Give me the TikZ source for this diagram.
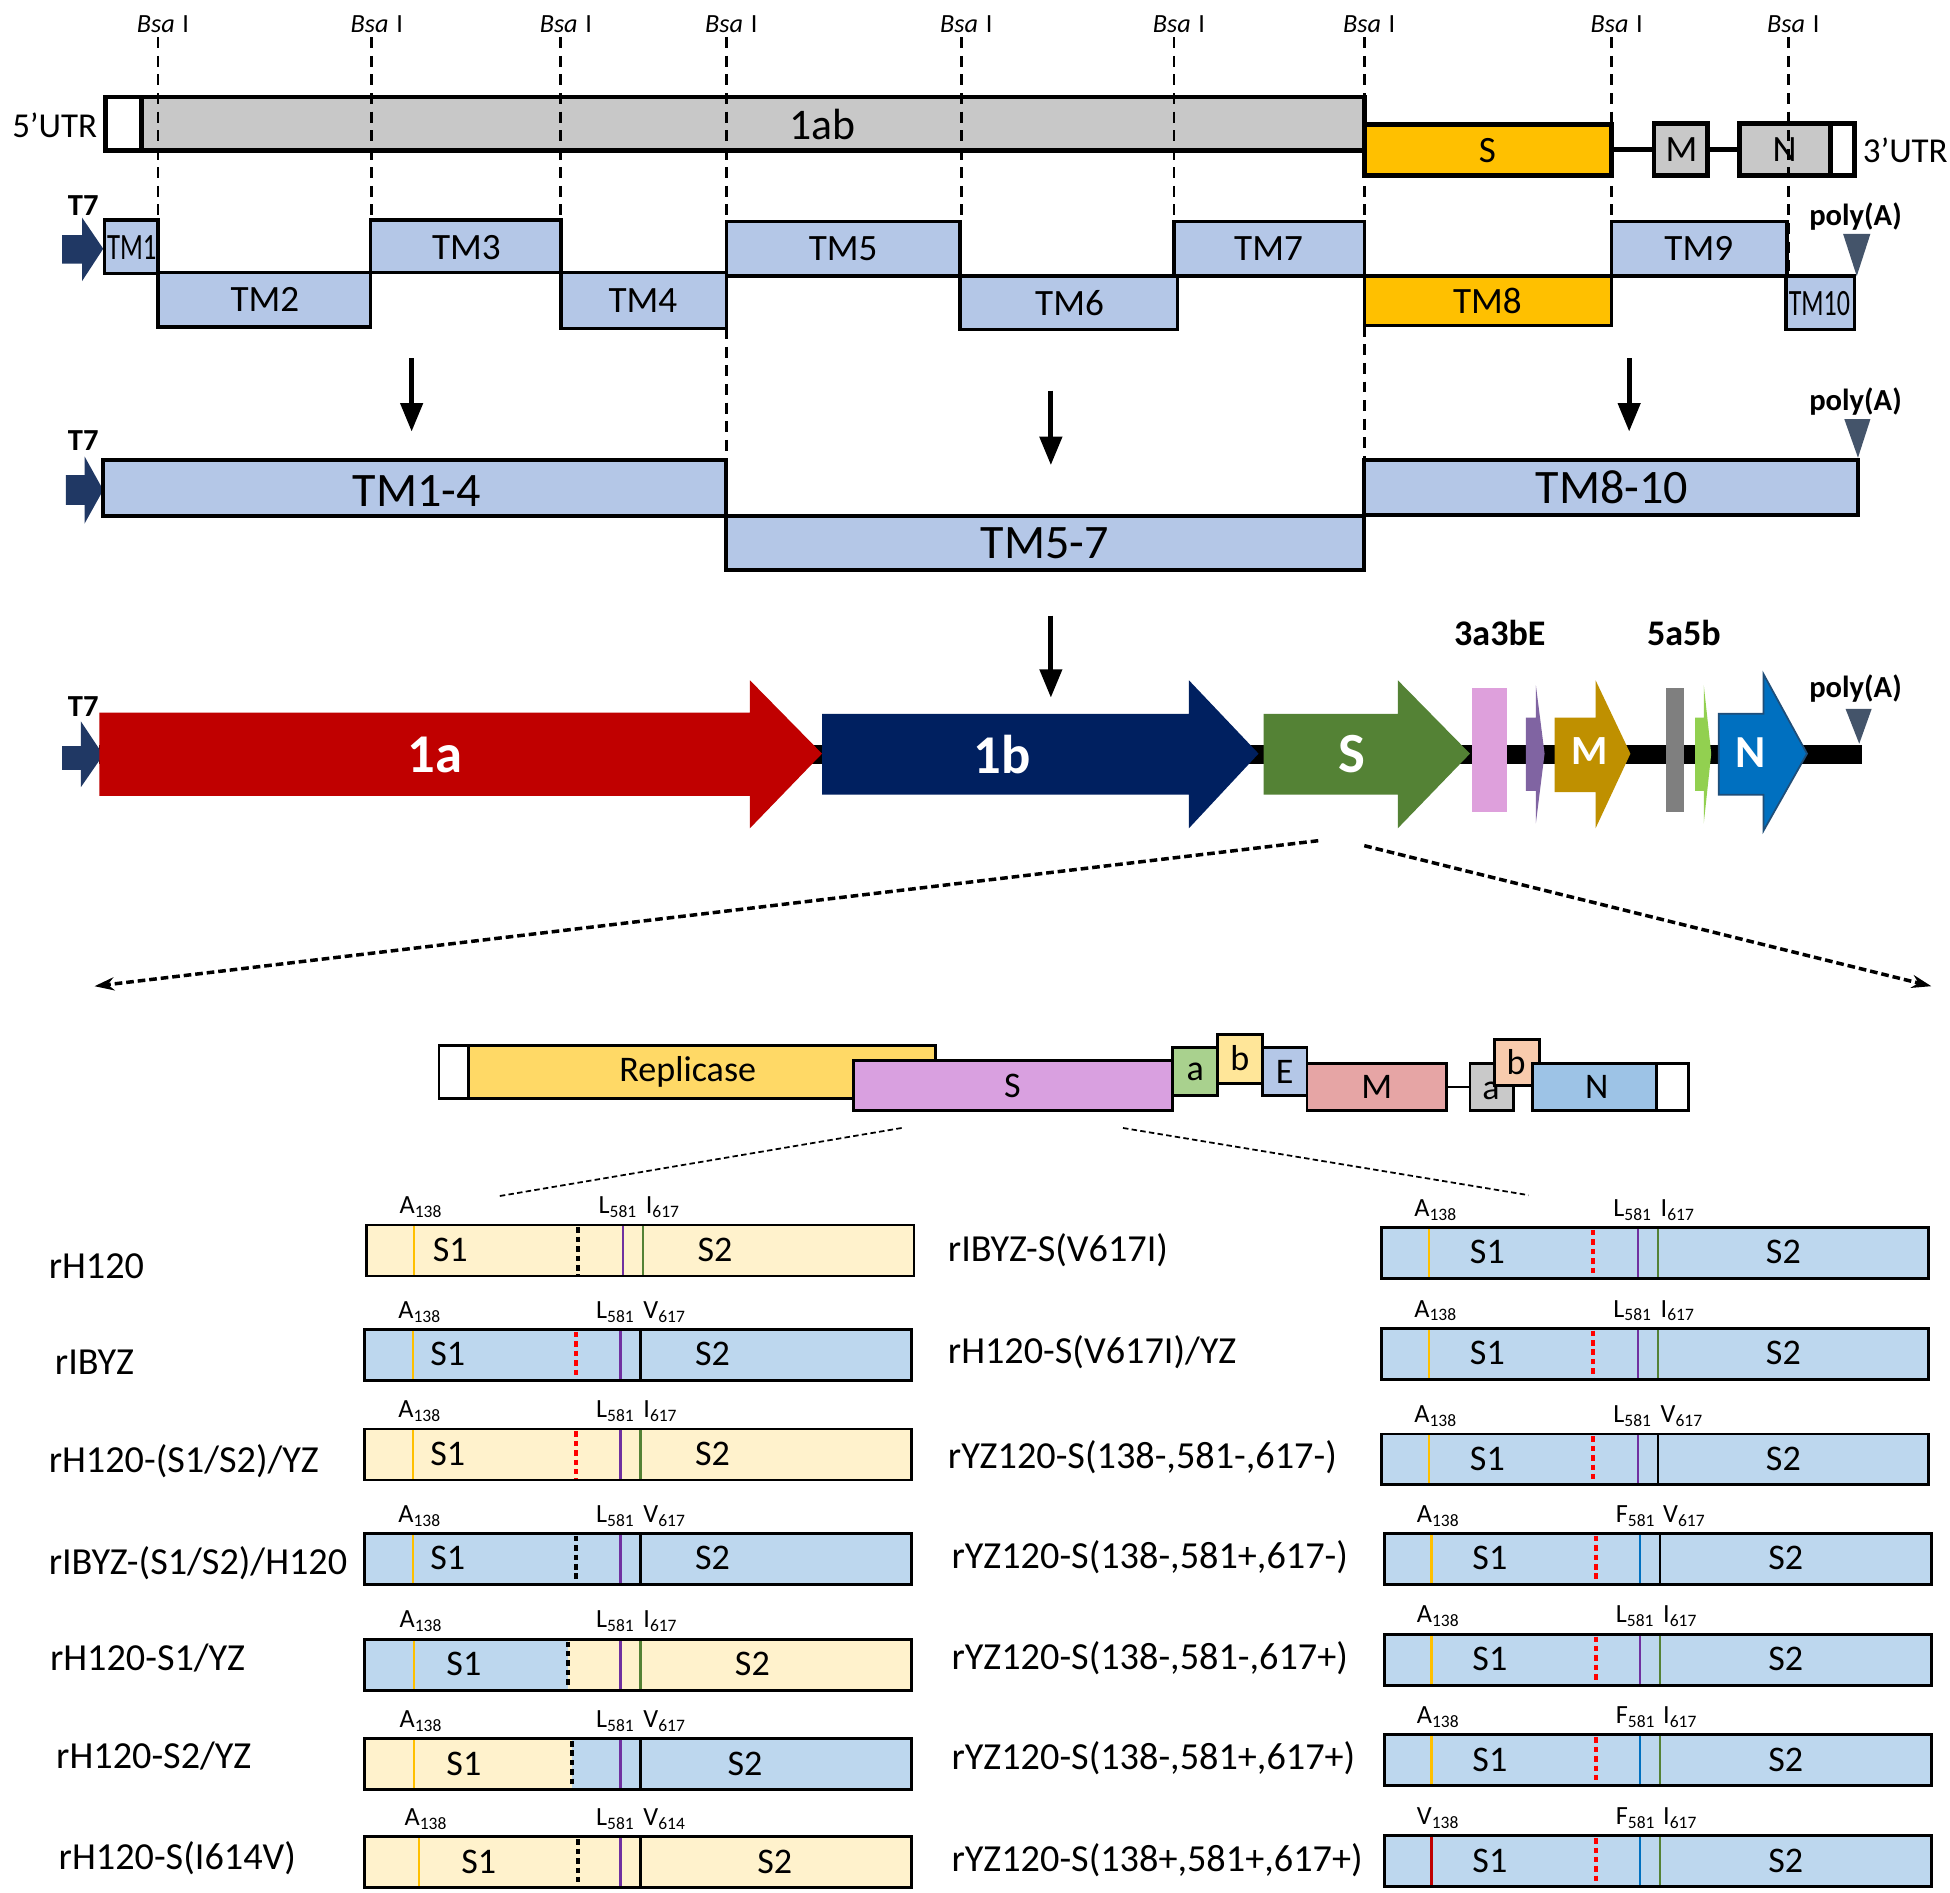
\documentclass[tikz,border=0pt]{standalone}
\usepackage{fontspec}
\setmainfont{Carlito}
\usetikzlibrary{arrows.meta}

\definecolor{tmblue}{RGB}{180,199,231}
\definecolor{sorange}{RGB}{255,192,0}
\definecolor{orfgray}{RGB}{200,200,200}
\definecolor{t7navy}{RGB}{32,56,100}
\definecolor{polygray}{RGB}{68,84,106}
\definecolor{orfred}{RGB}{192,0,0}
\definecolor{orfnavy}{RGB}{0,32,96}
\definecolor{orfgreen}{RGB}{84,130,53}
\definecolor{orfpink}{RGB}{222,160,220}
\definecolor{orfpurple}{RGB}{128,100,162}
\definecolor{orfgold}{RGB}{191,144,0}
\definecolor{orfdgray}{RGB}{127,127,127}
\definecolor{orflime}{RGB}{146,208,80}
\definecolor{orfblue}{RGB}{0,112,192}
\definecolor{orfblueline}{RGB}{31,78,121}
\definecolor{repyellow}{RGB}{255,217,102}
\definecolor{spike}{RGB}{217,160,224}
\definecolor{ngreen}{RGB}{169,209,142}
\definecolor{nyellow}{RGB}{255,230,153}
\definecolor{msalmon}{RGB}{230,165,165}
\definecolor{ngray}{RGB}{201,201,201}
\definecolor{bsalmon}{RGB}{248,203,173}
\definecolor{nblue}{RGB}{157,195,230}
\definecolor{h120}{RGB}{255,242,204}
\definecolor{ibyz}{RGB}{189,215,238}
\definecolor{mkorange}{RGB}{255,192,0}
\definecolor{mkpurple}{RGB}{112,48,160}
\definecolor{mkgreen}{RGB}{84,130,53}
\definecolor{mkblue}{RGB}{0,112,192}
\definecolor{mkred}{RGB}{192,0,0}
\definecolor{cutred}{RGB}{255,0,0}

\begin{document}
\begin{tikzpicture}[x=0.02cm, y=-0.02cm,
    gbox/.style={draw=black, line width=2.2pt},
    tmbox/.style={draw=black, line width=1.5pt, fill=tmblue},
    fragbox/.style={draw=black, line width=1.8pt, fill=tmblue},
    sbox/.style={draw=black, line width=1.3pt},
    sitecut/.style={line width=1.3pt, dash pattern=on 5pt off 3.5pt},
    downarr/.style={line width=2.2pt, -{Triangle[length=13pt, width=10pt]}},
    zoomarr/.style={line width=1.6pt, dash pattern=on 3.5pt off 1.8pt, -{Stealth[length=9pt, width=6pt]}},
    zoomline/.style={line width=0.8pt, dash pattern=on 2.5pt off 1.5pt},
    snp/.style={line width=1pt},
    s1s2cut/.style={line width=1.8pt, dash pattern=on 2.5pt off 1.8pt},
    bsalab/.style={font=\fontsize{12pt}{14pt}\selectfont, anchor=base},
    utrlab/.style={font=\fontsize{16pt}{18pt}\selectfont},
    tmlab/.style={font=\fontsize{17pt}{19pt}\selectfont},
    fraglab/.style={font=\fontsize{22pt}{24pt}\selectfont},
    boldlab/.style={font=\bfseries\fontsize{14pt}{16pt}\selectfont},
    orflab/.style={font=\bfseries\fontsize{25pt}{27pt}\selectfont, text=white},
    genlab/.style={font=\fontsize{16.5pt}{18pt}\selectfont},
    rowlab/.style={font=\fontsize{17.5pt}{19pt}\selectfont, anchor=west},
    snplab/.style={font=\fontsize{12pt}{14pt}\selectfont, anchor=base west, inner sep=0pt}]

    \useasboundingbox (0,0) rectangle (1568,1522);

    \fill[white] (0,0) rectangle (1568,1522);

    \draw[gbox, fill=orfgray] (85,78) rectangle (1097,121);
    \draw[gbox, fill=white] (85,78) rectangle (114,121);
    \draw[line width=2.2pt] (1296,120) -- (1399,120);
    \draw[gbox, fill=sorange] (1097,100) rectangle (1296,141);
    \draw[gbox, fill=orfgray] (1330,99) rectangle (1373,141);
    \draw[gbox, fill=orfgray] (1399,99) rectangle (1491,141);
    \draw[gbox, fill=white] (1472,99) rectangle (1491,141);

    \node[utrlab] (utr5) at (44,101) {5'UTR};
    \node[font=\fontsize{20pt}{22pt}\selectfont] (orf1ab) at (661,100) {1ab};
    \node[tmlab] (gS) at (1196,121) {S};
    \node[tmlab] (gM) at (1352,120) {M};
    \node[tmlab] (gN) at (1435,120) {N};
    \node[utrlab] (utr3) at (1532,121) {3'UTR};

    \fill[t7navy] (50,189) -- (66,189) -- (66,175) -- (83,200) -- (66,226) -- (66,212) -- (50,212) -- cycle;
    \node[boldlab] (t7a) at (67,165) {T7};

    \draw[tmbox] (84,177) rectangle (127,220);
    \draw[tmbox] (127,219) rectangle (298,263);
    \draw[tmbox] (298,177) rectangle (451,219);
    \draw[tmbox] (451,219) rectangle (584,264);
    \draw[tmbox] (584,178) rectangle (772,222);
    \draw[tmbox] (772,222) rectangle (947,265);
    \draw[tmbox] (944,178) rectangle (1097,222);
    \draw[tmbox, fill=sorange] (1097,222) rectangle (1296,262);
    \draw[tmbox] (1296,178) rectangle (1437,222);
    \draw[tmbox] (1436,222) rectangle (1491,265);

    \node[tmlab] (tm1) at (106,199) {\scalebox{0.72}[1]{TM1}};
    \node[tmlab] (tm2) at (213,241) {TM2};
    \node[tmlab] (tm3) at (375,199) {TM3};
    \node[tmlab] (tm4) at (517,242) {TM4};
    \node[tmlab] (tm5) at (678,200) {TM5};
    \node[tmlab] (tm6) at (860,244) {TM6};
    \node[tmlab] (tm7) at (1020,200) {TM7};
    \node[tmlab] (tm8) at (1196,242) {TM8};
    \node[tmlab] (tm9) at (1366,200) {TM9};
    \node[tmlab] (tm10) at (1463,244) {\scalebox{0.7}[1]{TM10}};

    \node[boldlab] (polyA1) at (1492,174) {poly(A)};
    \fill[polygray] (1482,188) -- (1504,188) -- (1493,222) -- cycle;

    \foreach \bsa/\yend in {127/177, 299/177, 451/177, 584/178, 773/178, 944/178, 1097/178, 1296/178, 1438/222}{
        \node[bsalab] (bsa\bsa) at (\bsa+4,26) {\textit{Bsa}\hspace{3.5pt}I};
        \draw[sitecut] (\bsa,30) -- (\bsa,\yend);
    }
    \draw[sitecut] (584,264) -- (584,370);
    \draw[sitecut] (1097,262) -- (1097,370);

    \draw[downarr] (331,288) -- (331,347);
    \draw[downarr] (845,314) -- (845,374);
    \draw[downarr] (1310,288) -- (1310,347);

    \fill[t7navy] (53,382) -- (68,382) -- (68,367) -- (83,394) -- (68,421) -- (68,406) -- (53,406) -- cycle;
    \node[boldlab] (t7b) at (67,354) {T7};

    \draw[fragbox] (83,370) rectangle (584,415);
    \draw[fragbox] (584,415) rectangle (1097,458);
    \draw[fragbox] (1097,370) rectangle (1494,414);
    \node[fraglab] (tm14) at (335,395) {TM1-4};
    \node[fraglab] (tm57) at (840,437) {TM5-7};
    \node[fraglab] (tm810) at (1296,392) {TM8-10};

    \node[boldlab] (polyA2) at (1492,323) {poly(A)};
    \fill[polygray] (1483,337) -- (1504,337) -- (1494,368) -- cycle;

    \draw[downarr] (845,495) -- (845,561);

    \fill[black] (80,599) rectangle (1497,614);
    \fill[t7navy] (50,600) -- (65,600) -- (65,580) -- (83,607) -- (65,633) -- (65,619) -- (50,619) -- cycle;
    \node[boldlab] (t7c) at (67,568) {T7};

    \fill[orfred] (80,573) -- (603,573) -- (603,547) -- (661,606) -- (603,666) -- (603,640) -- (80,640) -- cycle;
    \fill[orfnavy] (661,574) -- (956,574) -- (956,547) -- (1012,606) -- (956,666) -- (956,639) -- (661,639) -- cycle;
    \fill[orfgreen] (1016,574) -- (1124,574) -- (1124,547) -- (1182,606) -- (1124,666) -- (1124,639) -- (1016,639) -- cycle;
    \fill[orfpink] (1184,553) rectangle (1212,653);
    \fill[orfpurple] (1227,577) -- (1235,577) -- (1235,551) -- (1242,606) -- (1235,662) -- (1235,636) -- (1227,636) -- cycle;
    \fill[orfgold] (1250,577) -- (1283,577) -- (1283,547) -- (1311,606) -- (1283,666) -- (1283,637) -- (1250,637) -- cycle;
    \fill[orfdgray] (1340,553) rectangle (1354,653);
    \fill[orflime] (1363,577) -- (1370,577) -- (1370,551) -- (1376,606) -- (1370,662) -- (1370,636) -- (1363,636) -- cycle;
    \filldraw[fill=orfblue, draw=orfblueline, line width=0.8pt] (1382,574) -- (1418,574) -- (1418,542) -- (1453,606) -- (1418,668) -- (1418,639) -- (1382,639) -- cycle;

    \node[orflab] (orf1a) at (350,607) {1a};
    \node[orflab] (orf1b) at (806,607) {1b};
    \node[orflab, font=\bfseries\fontsize{26pt}{28pt}\selectfont] (orfS) at (1087,606) {S};
    \node[orflab, font=\bfseries\fontsize{19pt}{21pt}\selectfont] (orfM) at (1278,604) {M};
    \node[orflab, font=\bfseries\fontsize{21pt}{23pt}\selectfont] (orfN) at (1408,605) {N};
    \node[boldlab, font=\bfseries\fontsize{16.5pt}{18pt}\selectfont] (orf3) at (1206,509) {3a3bE};
    \node[boldlab, font=\bfseries\fontsize{16.5pt}{18pt}\selectfont] (orf5) at (1354,509) {5a5b};

    \node[boldlab] (polyA3) at (1492,554) {poly(A)};
    \fill[polygray] (1484,570) -- (1505,570) -- (1495,598) -- cycle;

    \coordinate (zl) at (1060,676);
    \coordinate (zr) at (1097,680);
    \draw[zoomarr] (zl) -- (76,793);
    \draw[zoomarr] (zr) -- (1553,793);

    \draw[sbox, fill=white] (353,841) rectangle (377,883);
    \draw[sbox, fill=repyellow] (377,841) rectangle (752,883);
    \node[genlab] (rep) at (553,862) {Replicase};
    \draw[sbox, fill=spike] (686,853) rectangle (943,893);
    \node[genlab] (sS) at (814,873) {S};
    \draw[sbox, fill=ngreen] (943,842) rectangle (979,881);
    \node[genlab] (s3a) at (961,862) {a};
    \draw[sbox, fill=nyellow] (979,832) rectangle (1015,871);
    \node[genlab] (s3b) at (997,851) {b};
    \draw[sbox, fill=tmblue] (1015,842) rectangle (1051,881);
    \node[genlab] (sE) at (1033,862) {E};
    \draw[sbox, fill=msalmon] (1051,855) rectangle (1163,893);
    \node[genlab] (sM) at (1107,874) {M};
    \draw[line width=1.3pt] (1163,874) -- (1182,874);
    \draw[sbox, fill=ngray] (1182,855) rectangle (1217,893);
    \node[genlab] (s5a) at (1199,877) {a};
    \draw[sbox, fill=bsalmon] (1202,836) rectangle (1238,873);
    \node[genlab] (s5b) at (1219,854) {b};
    \draw[sbox, fill=nblue] (1232,855) rectangle (1332,893);
    \node[genlab] (sN) at (1284,874) {N};
    \draw[sbox, fill=white] (1332,855) rectangle (1358,893);

    \draw[zoomline] (725,907) -- (400,962);
    \draw[zoomline] (903,907) -- (1229,961);

    \foreach \bx/\by/\fa/\fb/\sx/\cc/\ax/\ca/\ta/\cm/\tm/\cn/\tn/\sa/\sb in {
        295/985/h120/h120/170/black/38/mkorange/A/mkpurple/L/mkgreen/{I\textsubscript{617}}/67/280,
        293/1069/ibyz/ibyz/170/cutred/39/mkorange/A/mkpurple/L/black/{V\textsubscript{617}}/67/280,
        293/1149/h120/h120/170/cutred/39/mkorange/A/mkpurple/L/mkgreen/{I\textsubscript{617}}/67/280,
        293/1233/ibyz/ibyz/170/black/39/mkorange/A/mkpurple/L/black/{V\textsubscript{617}}/67/280,
        293/1318/ibyz/h120/164/black/40/mkorange/A/mkpurple/L/mkgreen/{I\textsubscript{617}}/80/312,
        293/1398/h120/ibyz/167/black/40/mkorange/A/mkpurple/L/black/{V\textsubscript{617}}/80/306,
        293/1477/h120/h120/172/black/44/mkorange/A/mkpurple/L/black/{V\textsubscript{614}}/92/330,
        1111/987/ibyz/ibyz/170/cutred/38/mkorange/A/mkpurple/L/mkgreen/{I\textsubscript{617}}/85/323,
        1111/1068/ibyz/ibyz/170/cutred/38/mkorange/A/mkpurple/L/mkgreen/{I\textsubscript{617}}/85/323,
        1111/1153/ibyz/ibyz/170/cutred/38/mkorange/A/mkpurple/L/black/{V\textsubscript{617}}/85/323,
        1113/1233/ibyz/ibyz/170/cutred/38/mkorange/A/mkblue/F/black/{V\textsubscript{617}}/85/323,
        1113/1314/ibyz/ibyz/170/cutred/38/mkorange/A/mkpurple/L/mkgreen/{I\textsubscript{617}}/85/323,
        1113/1395/ibyz/ibyz/170/cutred/38/mkorange/A/mkblue/F/mkgreen/{I\textsubscript{617}}/85/323,
        1113/1476/ibyz/ibyz/170/cutred/38/mkred/V/mkblue/F/mkgreen/{I\textsubscript{617}}/85/323}{
        \fill[\fa] (\bx,\by) rectangle (\bx+\sx,\by+41);
        \fill[\fb] (\bx+\sx,\by) rectangle (\bx+440,\by+41);
        \draw[snp, \ca] (\bx+\ax,\by) -- (\bx+\ax,\by+41);
        \draw[snp, \cm] (\bx+206,\by) -- (\bx+206,\by+41);
        \draw[snp, \cn] (\bx+222,\by) -- (\bx+222,\by+41);
        \draw[s1s2cut, \cc] (\bx+\sx,\by+2) -- (\bx+\sx,\by+40);
        \draw[sbox] (\bx,\by) rectangle (\bx+440,\by+41);
        \node[snplab] (a\bx-\by) at (\bx+\ax-12,\by-9) {\ta\textsubscript{138}};
        \node[snplab] (b\bx-\by) at (\bx+186,\by-9) {\tm\textsubscript{581}};
        \node[snplab] (c\bx-\by) at (\bx+224,\by-9) {\tn};
        \node[genlab] (sone\bx-\by) at (\bx+\sa,\by+20) {S1};
        \node[genlab] (stwo\bx-\by) at (\bx+\sb,\by+20) {S2};
    }

    \node[rowlab] (rH) at (33,1018) {rH120};
    \node[rowlab] (rI) at (38,1095) {rIBYZ};
    \node[rowlab] (rHs) at (33,1175) {rH120-(S1/S2)/YZ};
    \node[rowlab] (rIs) at (33,1257) {rIBYZ-(S1/S2)/H120};
    \node[rowlab] (rHone) at (34,1333) {rH120-S1/YZ};
    \node[rowlab] (rHtwo) at (39,1412) {rH120-S2/YZ};
    \node[rowlab] (rHv) at (41,1494) {rH120-S(I614V)};

    \node[rowlab] (rIv) at (756,1005) {rIBYZ-S(V617I)};
    \node[rowlab] (rHvy) at (756,1087) {rH120-S(V617I)/YZ};
    \node[rowlab] (ry1) at (756,1172) {rYZ120-S(138-,581-,617-)};
    \node[rowlab] (ry2) at (759,1252) {rYZ120-S(138-,581+,617-)};
    \node[rowlab] (ry3) at (759,1333) {rYZ120-S(138-,581-,617+)};
    \node[rowlab] (ry4) at (759,1414) {rYZ120-S(138-,581+,617+)};
    \node[rowlab] (ry5) at (759,1496) {rYZ120-S(138+,581+,617+)};

\end{tikzpicture}
\end{document}
